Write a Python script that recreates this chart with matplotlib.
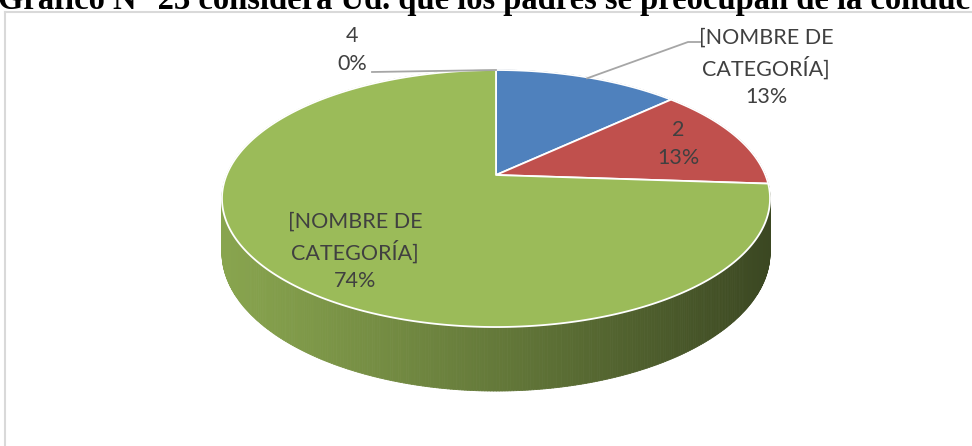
import numpy as np
import matplotlib.pyplot as plt
from matplotlib.collections import PolyCollection
from matplotlib.colors import to_rgb

# Datos del gráfico
categorias = ["[NOMBRE DE\nCATEGORÍA]", "2", "[NOMBRE DE\nCATEGORÍA]", "4"]
valores = [3, 3, 17, 0]
colores = ["#4F81BD", "#C0504D", "#9BBB59", "#8064A2"]
titulo = "Gráfico N° 23 considera Ud. que los padres se preocupan de la conducta"

# Geometría del pastel 3D (píxeles)
W, H = 972, 446
CX, CY = 496, 175          # centro proyectado
SX, SY = 269.4, 124.2      # semiejes
K = 0.183                  # perspectiva
PROF = 52.3                # grosor
TXT = "#404040"

fig = plt.figure(figsize=(W / 100, H / 100), dpi=100)
ax = fig.add_axes([0, 0, 1, 1])
ax.set_xlim(0, W)
ax.set_ylim(H, 0)
ax.axis("off")


def proy(ang, r=1.0, z=0.0):
    t = np.radians(ang)
    u = r * np.sin(t)
    v = r * np.cos(t)
    d = 1 + K * v
    return CX + SX * u / d, CY - SY * v / d + PROF * z / d


total = sum(valores)
angulos = np.cumsum([0] + valores) / total * 360

# Lateral con degradado
segs, cols, prof = [], [], []
for i in range(len(valores)):
    a0, a1 = angulos[i], angulos[i + 1]
    if a1 - a0 <= 0:
        continue
    n = max(2, int((a1 - a0) * 2))
    ts = np.linspace(a0, a1, n + 1)
    base = np.array(to_rgb(colores[i]))
    for t0, t1 in zip(ts[:-1], ts[1:]):
        x0, y0 = proy(t0)
        x1, y1 = proy(t1)
        x0b, y0b = proy(t0, z=1)
        x1b, y1b = proy(t1, z=1)
        segs.append([(x0, y0), (x1, y1), (x1b, y1b), (x0b, y0b)])
        xn = np.clip(((x0 + x1) / 2 - (CX - 274)) / 548, 0, 1)
        f = 0.88 - 0.5 * xn ** 1.1
        cols.append(np.clip(base * f, 0, 1))
        prof.append(np.cos(np.radians((t0 + t1) / 2)))
orden = np.argsort(prof)[::-1]
ax.add_collection(PolyCollection([segs[j] for j in orden],
                                 facecolors=[cols[j] for j in orden],
                                 edgecolors=[cols[j] for j in orden],
                                 linewidths=0.6))

# Cara superior
for i in range(len(valores)):
    a0, a1 = angulos[i], angulos[i + 1]
    if a1 - a0 <= 0:
        continue
    ts = np.linspace(a0, a1, 300)
    xs, ys = proy(ts)
    pts = [(CX, CY)] + list(zip(xs, ys))
    ax.add_patch(plt.Polygon(pts, closed=True, facecolor=colores[i],
                             edgecolor="white", linewidth=1.3, joinstyle="round"))

# Etiquetas
pct = [f"{round(v / total * 100)}%" for v in valores]
pos = [(766, 67), (678, 144), (355, 251), (352, 50)]
for i in range(len(valores)):
    ax.text(pos[i][0], pos[i][1], f"{categorias[i]}\n{pct[i]}", ha="center",
            va="center", fontsize=15.5, family="Lato", color=TXT,
            linespacing=1.45)

# Líneas guía
gris = "#A6A6A6"
mx, my = proy((angulos[0] + angulos[1]) / 2, r=0.99)
ax.plot([mx, 688, 700], [my, 42, 42], color=gris, lw=1.3)
tx, ty = proy(angulos[4])
ax.plot([372, tx], [72, ty], color=gris, lw=1.3)

# Borde del área del gráfico
ax.plot([4.5, W], [11.5, 11.5], color="#D9D9D9", lw=1.5)
ax.plot([4.5, 4.5], [11.5, H], color="#D9D9D9", lw=1.5)

# Título (cortado arriba)
ax.text(-2, 9.5, titulo, ha="left", va="baseline", fontsize=23.5,
        family="Liberation Serif", weight="bold", color="black")

fig.savefig("out.png", dpi=100)
